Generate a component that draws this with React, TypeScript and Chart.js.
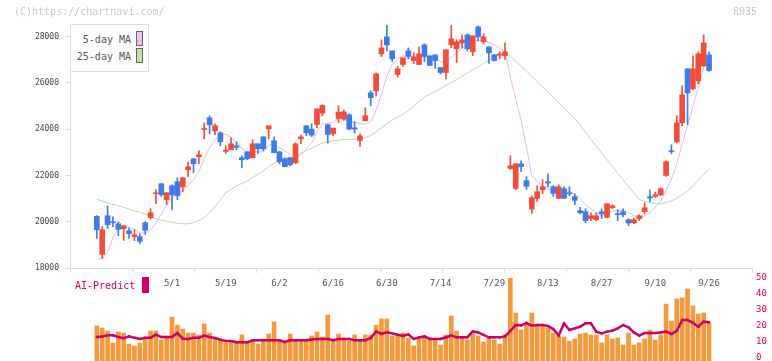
import React, { useEffect, useRef } from "react";
import { Chart, registerables } from "chart.js";

Chart.register(...registerables);

// ---- data ----
const opens = [
  20231, 18590, 20259, 19990, 19914, 19698, 19612, 19353, 19353, 19957,
  20173, 21209, 21641, 20950, 21554, 21727, 21511, 22245, 22720, 22806,
  23986, 24490, 23929, 23842, 23036, 23108, 23281, 22763, 23022, 22763,
  23367, 23669, 24015, 23497, 23022, 22720, 22763, 22547, 23583, 24145,
  24001, 24203, 24692, 24188, 23800, 24462, 24433, 24620, 24059, 23512,
  24361, 25570, 25656, 27253, 27987, 27383, 26361, 26793, 27383, 26965,
  26793, 27642, 27167, 27210, 26663, 26447, 27642, 27469, 27728, 28073,
  27340, 28419, 27771, 27555, 27210, 27196, 27181, 22303, 21439, 22504,
  21771, 20547, 21008, 21382, 21727, 21511, 21008, 21425, 21252, 21080,
  20475, 20432, 20130, 20087, 20432, 20187, 20605, 20346, 20432, 20087,
  19957, 20130, 20432, 21080, 21094, 21166, 22001, 23051, 23454, 24274,
  26605, 25742, 26087, 26735, 27210,
];
const highs = [
  20260, 19785, 20691, 20216, 20000, 19828, 19741, 19655, 19482, 20000,
  20562, 21382, 21641, 21252, 21598, 21900, 21900, 22590, 22720, 23065,
  24274, 24576, 24231, 23885, 23281, 23626, 23454, 22850, 23022, 23540,
  23367, 23669, 24145, 23669, 23022, 22763, 22763, 23410, 23756, 24145,
  24231, 24879, 25052, 24217, 24044, 25009, 24836, 24663, 24318, 23800,
  24922, 25656, 26433, 27858, 28548, 27383, 26706, 27080, 27512, 27296,
  27555, 27685, 27167, 27210, 26663, 27426, 28548, 27858, 28073, 28116,
  28030, 28462, 28116, 27555, 27224, 27340, 27728, 22850, 22504, 22634,
  21943, 21123, 21555, 21814, 22072, 21555, 21597, 21511, 21511, 21209,
  20619, 20562, 20389, 20389, 20562, 20778, 20734, 20519, 20562, 20130,
  20173, 20303, 20821, 21382, 21281, 21468, 22634, 23324, 24576, 25871,
  26605, 27167, 27339, 28073, 27339,
];
const lows = [
  19280, 18417, 19698, 19785, 19396, 19194, 19281, 19180, 19051, 19453,
  20115, 20778, 21094, 20735, 20518, 20950, 21295, 21943, 22116, 22504,
  23583, 23799, 23756, 23281, 22950, 23108, 23108, 22331, 22677, 22763,
  22950, 23065, 23583, 22979, 22504, 22375, 22418, 22504, 23367, 23713,
  23669, 24058, 24577, 23397, 23713, 24289, 24375, 23972, 23828, 23253,
  24361, 25009, 25440, 27138, 27383, 26922, 26246, 26706, 27037, 26836,
  26793, 26922, 26750, 26620, 26390, 26174, 27512, 26879, 27512, 27383,
  27167, 27814, 27685, 26836, 26937, 27037, 27008, 22260, 21382, 22159,
  21396, 20360, 20878, 21209, 21497, 21094, 21008, 21008, 21123, 20734,
  20346, 19957, 20044, 20044, 20130, 20187, 20562, 20044, 20216, 19828,
  19914, 20044, 20346, 20864, 21051, 21123, 21957, 22936, 23411, 24145,
  24188, 25699, 25958, 26692, 26490,
];
const closes = [
  19655, 19655, 19870, 19957, 19670, 19828, 19482, 19439, 19151, 19626,
  20389, 21252, 21166, 21252, 21166, 21123, 21900, 22375, 22504, 22893,
  24015, 24188, 24145, 23454, 23094, 23367, 23209, 22677, 22720, 23367,
  23152, 23152, 24145, 22979, 22590, 22375, 22461, 23367, 23669, 23842,
  23742, 24879, 25023, 23771, 24044, 24735, 24749, 24001, 24001, 23713,
  24577, 25354, 26390, 27512, 27642, 27037, 26606, 27080, 27138, 27124,
  27253, 27138, 26750, 26965, 26447, 27426, 27901, 27771, 27858, 27469,
  28030, 27987, 27987, 27296, 26965, 27253, 27340, 22418, 22504, 22375,
  21526, 21037, 21296, 21511, 21670, 21223, 21511, 21008, 21209, 20922,
  20389, 20044, 20259, 20259, 20346, 20778, 20691, 20303, 20303, 19943,
  20087, 20259, 20605, 21022, 21166, 21425, 22591, 23022, 24274, 25483,
  25569, 26605, 27253, 27728, 26533,
];
const ma5 = [
  18388, 18380, 18700, 19300, 19761, 19796, 19761, 19675, 19514, 19505,
  19617, 19971, 20317, 20737, 21045, 21192, 21321, 21563, 21814, 22159,
  22737, 23195, 23549, 23739, 23779, 23650, 23454, 23160, 23013, 23068,
  23025, 23014, 23307, 23359, 23204, 23048, 22910, 22754, 22892, 23143,
  23416, 23900, 24231, 24251, 24292, 24490, 24464, 24260, 24306, 24240,
  24208, 24329, 24807, 25509, 26295, 26787, 27037, 27175, 27101, 26997,
  27040, 27147, 27081, 27046, 26911, 26945, 27098, 27302, 27481, 27685,
  27806, 27823, 27866, 27754, 27653, 27498, 27368, 26254, 25296, 24378,
  23233, 21972, 21748, 21549, 21408, 21347, 21442, 21385, 21324, 21175,
  21008, 20714, 20565, 20375, 20259, 20337, 20467, 20475, 20484, 20404,
  20265, 20179, 20239, 20383, 20628, 20895, 21362, 21845, 22496, 23359,
  24171, 24974, 25821, 26656, 26963,
];
const ma25 = [
  20979, 20890, 20806, 20750, 20690, 20620, 20550, 20470, 20400, 20340,
  20220, 20130, 20080, 20020, 19980, 19930, 19910, 19910, 19960, 20060,
  20180, 20380, 20650, 20950, 21250, 21398, 21541, 21653, 21763, 21911,
  22044, 22191, 22379, 22532, 22651, 22730, 22779, 22867, 22963, 23071,
  23175, 23294, 23400, 23451, 23497, 23526, 23548, 23543, 23564, 23589,
  23638, 23723, 23872, 24064, 24235, 24390, 24528, 24646, 24812, 24993,
  25188, 25375, 25511, 25643, 25747, 25894, 26015, 26125, 26288, 26425,
  26557, 26687, 26846, 26978, 27108, 27215, 27295, 27136, 26935, 26725,
  26504, 26282, 26050, 25825, 25607, 25366, 25141, 24911, 24681, 24460,
  24178, 23864, 23563, 23260, 22975, 22685, 22393, 22085, 21806, 21525,
  21238, 20955, 20882, 20823, 20775, 20771, 20833, 20902, 21012, 21165,
  21339, 21542, 21792, 22053, 22277,
];
const volume = [
  20, 18.75, 16.9, 9.4, 16.25, 15.6, 8.75, 7.5, 9.4, 11.9,
  16.9, 16.9, 11.25, 13.1, 25.6, 20.6, 18.1, 15.6, 15.6, 14.4,
  21.25, 15.6, 12.5, 11.25, 9.4, 10.6, 9.4, 14.4, 10.6, 10.6,
  8.75, 10.6, 15, 22.5, 11.25, 9.4, 15, 11.25, 11.25, 11.25,
  13.75, 16.25, 13.1, 26.9, 11.25, 15, 11.25, 10.6, 14.4, 10.6,
  14.4, 14.4, 20.6, 24.4, 24.4, 13.75, 14.4, 15.6, 12.5, 7.5,
  12.5, 13.75, 12.5, 11.9, 8.1, 14.4, 26.25, 16.9, 13.1, 11.25,
  15, 13.75, 10, 12.5, 11.25, 8.75, 14.4, 50, 28.1, 17.5,
  21.25, 28.1, 20, 20, 18.75, 15.6, 13.75, 13.1, 10.6, 11.9,
  15, 15.6, 14.4, 14.4, 9.4, 14.4, 11.9, 12.5, 8.1, 15.6,
  8.1, 9.4, 11.9, 17.5, 11.25, 14.4, 33.75, 23.1, 36.9, 37.5,
  43.1, 32.5, 27.5, 28.1, 21.9,
];
const aiPredict = [
  13.1, 13.5, 14.2, 14.2, 13.1, 12.4, 13.5, 12.6, 11.9, 12.6,
  12.7, 14.6, 13.1, 13.1, 13.1, 15.6, 12.0, 11.9, 12.6, 12.6,
  14.0, 13.1, 12.5, 11.5, 10.6, 10.6, 9.8, 9.8, 9.8, 11.1,
  11.1, 11.1, 11.1, 11.1, 11.1, 10.0, 11.1, 11.1, 11.1, 11.1,
  11.5, 11.9, 11.9, 11.9, 11.1, 11.9, 11.9, 11.9, 11.1, 11.1,
  11.1, 12.5, 16.6, 15.0, 16.0, 15.4, 14.5, 13.8, 14.8, 11.9,
  12.9, 13.5, 11.9, 11.9, 11.9, 13.0, 14.0, 12.9, 12.9, 12.9,
  16.6, 16.0, 14.5, 12.9, 12.9, 12.9, 13.5, 17.0, 20.6, 20.4,
  21.9, 20.2, 20.6, 20.6, 20.0, 18.1, 14.0, 21.7, 17.5, 18.5,
  19.5, 21.7, 21.7, 16.5, 15.4, 16.5, 17.1, 18.5, 20.6, 19.2,
  16.0, 14.0, 15.6, 15.6, 15.6, 16.0, 16.5, 15.0, 17.0, 23.75,
  23.75, 22.0, 19.5, 22.7, 22.3,
];
const dateTickIndex = [14, 24, 34, 44, 54, 64, 74, 84, 94, 104, 114];
const dateTickLabels = ["5/1", "5/19", "6/2", "6/16", "6/30", "7/14", "7/29", "8/13", "8/27", "9/10", "9/26"];
const priceTicks = [18000, 20000, 22000, 24000, 26000, 28000];
const aiTicks = [0, 10, 20, 30, 40, 50];

const X_MIN = -5;
const X_MAX = 122;
const PRICE_MIN = 18000;
const PRICE_MAX = 28500;
const AI_MIN = -1.875;
const AI_MAX = 50;

const FONT = "'DejaVu Sans Mono', 'Liberation Mono', monospace";
const UP = "#f24d3b";
const DOWN = "#3f7be8";
const AXIS = "#dcdcdc";

export default function App() {
  const topRef = useRef<HTMLCanvasElement>(null);
  const botRef = useRef<HTMLCanvasElement>(null);

  useEffect(() => {
    const colors = closes.map((c, i) => (c >= opens[i] ? UP : DOWN));
    const top = new Chart(topRef.current!, {
      type: "bar",
      data: {
        datasets: [
          {
            type: "line",
            label: "25-day MA",
            data: ma25.map((v, i) => ({ x: i, y: v })),
            borderColor: "#b7dca6",
            borderWidth: 1,
            pointRadius: 0,
            tension: 0,
            xAxisID: "x",
            yAxisID: "y",
            order: 4,
          } as any,
          {
            type: "line",
            label: "5-day MA",
            data: ma5.map((v, i) => ({ x: i, y: v })),
            borderColor: "#ebb6eb",
            borderWidth: 1,
            pointRadius: 0,
            tension: 0,
            xAxisID: "x",
            yAxisID: "y",
            order: 3,
          } as any,
          {
            type: "bar",
            label: "wick",
            data: highs.map((h, i) => ({ x: i, y: [lows[i], h] })),
            backgroundColor: colors,
            barThickness: 1,
            grouped: false,
            borderWidth: 0,
            xAxisID: "x",
            yAxisID: "y",
            order: 2,
          } as any,
          {
            type: "bar",
            label: "body",
            data: opens.map((o, i) => ({ x: i, y: [o, closes[i]] })),
            backgroundColor: colors,
            barThickness: 5,
            minBarLength: 1,
            grouped: false,
            borderWidth: 0,
            xAxisID: "x",
            yAxisID: "y",
            order: 1,
          } as any,
        ],
      },
      options: {
        responsive: false,
        animation: false,
        events: [],
        layout: { autoPadding: false, padding: { top: 25, right: 20, left: 0, bottom: 0 } },
        plugins: { legend: { display: false }, tooltip: { enabled: false } },
        scales: {
          xt: {
            axis: "x",
            type: "linear",
            position: "bottom",
            weight: 0,
            offset: false,
            min: 0,
            max: 11,
            ticks: { display: false, stepSize: 1 },
            grid: { display: true, offset: false, drawOnChartArea: false, drawTicks: true, tickLength: 5, color: AXIS },
            border: { display: true, color: AXIS },
            afterFit: (s: any) => {
              s.height = 5;
            },
          },
          x: {
            axis: "x",
            type: "linear",
            position: "bottom",
            weight: 1,
            offset: false,
            min: X_MIN,
            max: X_MAX,
            grid: { display: false, drawTicks: false, tickLength: 0, offset: false },
            border: { display: false },
            afterBuildTicks: (s: any) => {
              s.ticks = dateTickIndex.map((v) => ({ value: v }));
            },
            ticks: {
              autoSkip: false,
              maxRotation: 0,
              padding: 5,
              color: "#555",
              font: { family: FONT, size: 9 },
              callback: (v: any) => {
                const k = dateTickIndex.indexOf(Number(v));
                return k >= 0 ? dateTickLabels[k] : "";
              },
            },
            afterFit: (s: any) => {
              s.height = 23;
            },
          },
          y: {
            type: "linear",
            position: "left",
            min: PRICE_MIN,
            max: PRICE_MAX,
            afterBuildTicks: (s: any) => {
              s.ticks = priceTicks.map((v) => ({ value: v }));
            },
            ticks: {
              color: "#444",
              font: { family: FONT, size: 8 },
              padding: 6,
              callback: (v: any) => String(v),
            },
            grid: { display: true, drawOnChartArea: false, drawTicks: true, tickLength: 5, color: AXIS },
            border: { display: true, color: AXIS },
            afterFit: (s: any) => {
              s.width = 70;
            },
          },
        },
      } as any,
    });

    const bot = new Chart(botRef.current!, {
      type: "bar",
      data: {
        datasets: [
          {
            type: "line",
            label: "AI-Predict",
            data: aiPredict.map((v, i) => ({ x: i, y: v })),
            borderColor: "#cc0066",
            backgroundColor: "#cc0066",
            borderWidth: 2.5,
            pointRadius: 1.6,
            pointStyle: "rect",
            pointBorderWidth: 0,
            tension: 0,
            order: 0,
          } as any,
          {
            type: "bar",
            label: "bars",
            data: volume.map((v, i) => ({ x: i, y: v })),
            backgroundColor: "#f39a3d",
            barThickness: 4,
            base: AI_MIN,
            borderWidth: 0,
            order: 1,
          } as any,
        ],
      },
      options: {
        responsive: false,
        animation: false,
        events: [],
        layout: { autoPadding: false, padding: { top: 8, right: 0, left: 70, bottom: 0 } },
        plugins: { legend: { display: false }, tooltip: { enabled: false } },
        scales: {
          x: { type: "linear", offset: false, grid: { offset: false }, min: X_MIN, max: X_MAX, display: false },
          y: {
            type: "linear",
            position: "right",
            min: AI_MIN,
            max: AI_MAX,
            afterBuildTicks: (s: any) => {
              s.ticks = aiTicks.map((v) => ({ value: v }));
            },
            grid: { display: false, drawTicks: false, tickLength: 0 },
            border: { display: false },
            ticks: { color: "#cc0066", font: { family: FONT, size: 9 }, padding: 4 },
            afterFit: (s: any) => {
              s.width = 20;
              s.paddingTop = 0;
              s.paddingBottom = 0;
            },
          },
        },
      } as any,
    });

    return () => {
      top.destroy();
      bot.destroy();
    };
  }, []);

  const txt: React.CSSProperties = {
    position: "absolute",
    fontFamily: FONT,
    fontSize: 10,
    whiteSpace: "nowrap",
  };

  return (
    <div style={{ position: "fixed", left: 0, top: 0, width: 772, height: 361, background: "#fff", overflow: "hidden" }}>
      <canvas ref={botRef} width={772} height={91} style={{ position: "absolute", left: 0, top: 270, display: "block" }} />
      <canvas ref={topRef} width={772} height={296} style={{ position: "absolute", left: 0, top: 0, display: "block" }} />
      <div style={{ ...txt, left: 14, top: 5, lineHeight: "14px", color: "#c8c8c8" }}>(C)https://chartnavi.com/</div>
      <div style={{ ...txt, left: 733, top: 5, lineHeight: "14px", color: "#c8c8c8" }}>8035</div>
      <div
        style={{
          position: "absolute",
          left: 70,
          top: 24,
          width: 77,
          height: 46,
          border: "1px solid #dedede",
          background: "#fff",
        }}
      />
      <div style={{ ...txt, left: 70, width: 61, textAlign: "right", top: 33, lineHeight: "14px", color: "#555" }}>5-day MA</div>
      <div style={{ ...txt, left: 70, width: 61, textAlign: "right", top: 50, lineHeight: "14px", color: "#555" }}>25-day MA</div>
      <div style={{ position: "absolute", left: 136, top: 31, width: 5, height: 13, border: "1px solid #666", background: "#efbfef" }} />
      <div style={{ position: "absolute", left: 136, top: 48, width: 5, height: 13, border: "1px solid #666", background: "#c2e2b2" }} />
      <div style={{ ...txt, left: 75, top: 279, lineHeight: "14px", color: "#cc0066" }}>AI-Predict</div>
      <div style={{ position: "absolute", left: 142, top: 277, width: 7, height: 16, background: "#cc0066" }} />
    </div>
  );
}
